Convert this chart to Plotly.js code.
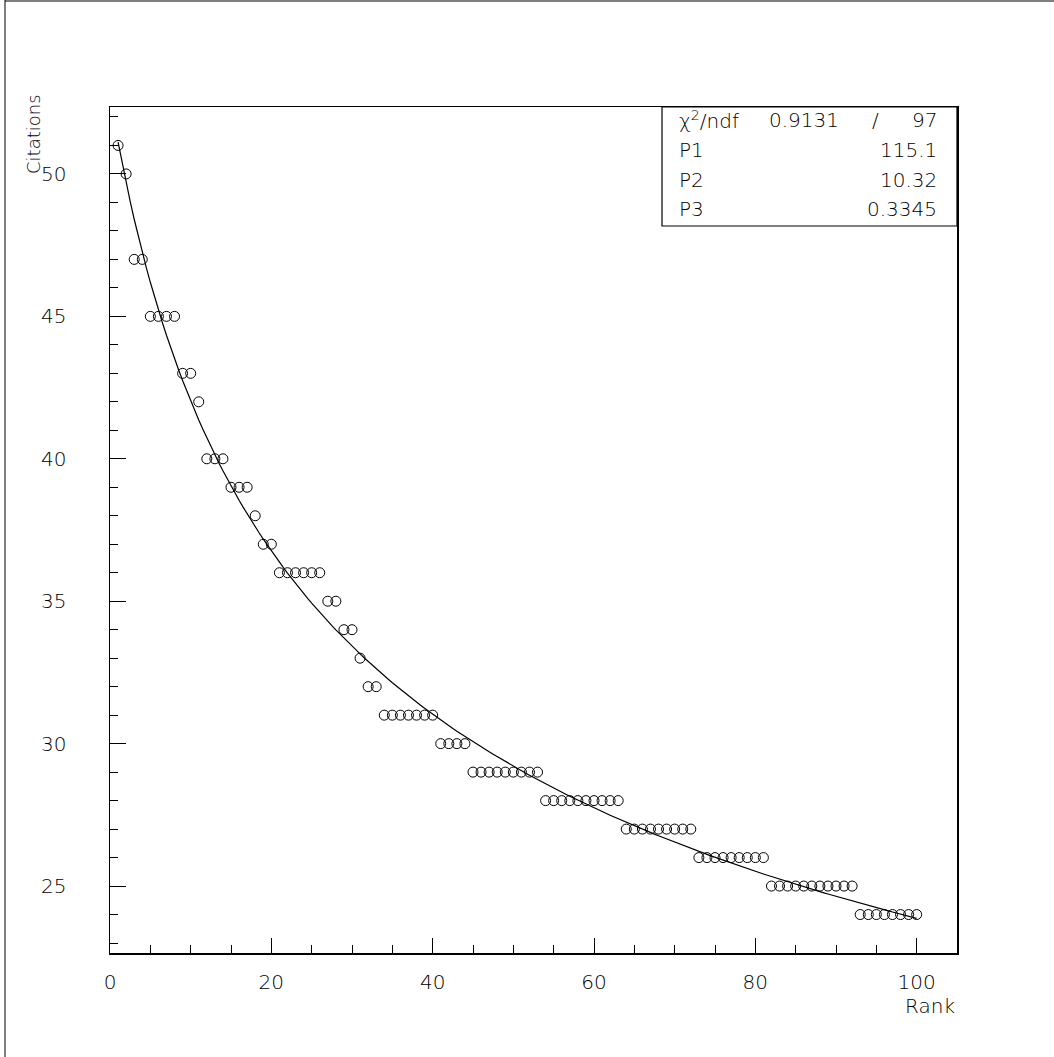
<!DOCTYPE html>
<html>
<head>
<meta charset="utf-8">
<script src="https://cdn.plot.ly/plotly-3.0.1.min.js"></script>
<style>html,body{margin:0;padding:0;background:#fff;}#chart{width:1054px;height:1057px;}</style>
</head>
<body>
<div id="chart"></div>
<script>
// Citations by rank
const citations = [
  51, 50, 47, 47, 45, 45, 45, 45, 43, 43,
  42, 40, 40, 40, 39, 39, 39, 38, 37, 37,
  36, 36, 36, 36, 36, 36, 35, 35, 34, 34,
  33, 32, 32, 31, 31, 31, 31, 31, 31, 31,
  30, 30, 30, 30, 29, 29, 29, 29, 29, 29,
  29, 29, 29, 28, 28, 28, 28, 28, 28, 28,
  28, 28, 28, 27, 27, 27, 27, 27, 27, 27,
  27, 27, 26, 26, 26, 26, 26, 26, 26, 26,
  26, 25, 25, 25, 25, 25, 25, 25, 25, 25,
  25, 25, 24, 24, 24, 24, 24, 24, 24, 24
];
const ranks = citations.map((_, i) => i + 1);

// Fit results shown in the stats box
const chi2 = "0.9131";
const ndf = "97";
const paramNames = ["P1", "P2", "P3"];
const paramValues = [115.1, 10.32, 0.3345];
const paramLabels = ["115.1", "10.32", "0.3345"];

// Fit model curve: P1 / (P2 + x)^P3, drawn over the data range
const fitX = [];
const fitY = [];
for (let x = 1; x <= 100.0001; x += 0.5) {
  fitX.push(x);
  fitY.push(paramValues[0] / Math.pow(paramValues[1] + x, paramValues[2]));
}

const FONT = "'DejaVu Sans', 'Liberation Sans', sans-serif";

const W = 1054, H = 1057;
const L = 110, R = 957, T = 107, B = 953;
const px = v => (v - L) / (R - L);
const py = v => (B - v) / (B - T);

const traces = [
  {
    x: ranks, y: citations, type: 'scatter', mode: 'markers',
    marker: {symbol: 'circle-open', size: 10, color: '#000', line: {width: 1, color: '#000'}},
    hoverinfo: 'x+y', showlegend: false
  },
  {
    x: fitX, y: fitY, type: 'scatter', mode: 'lines',
    line: {color: '#000', width: 1.2}, hoverinfo: 'skip', showlegend: false
  }
];

const axisFont = {family: FONT, size: 20, color: '#000', weight: 200};
const titleFontY = {family: FONT, size: 18, color: '#000', weight: 200};
const statFont = {family: FONT, size: 20, color: '#000', weight: 200};

const rowY = [120, 150, 180, 209];
const annotations = [
  {x: px(677), y: py(rowY[0]), xref: 'paper', yref: 'paper', xanchor: 'left', yanchor: 'middle', showarrow: false,
   text: 'χ<sup>2</sup>/ndf', font: statFont},
  {x: px(767), y: py(rowY[0]), xref: 'paper', yref: 'paper', xanchor: 'left', yanchor: 'middle', showarrow: false,
   text: chi2, font: statFont},
  {x: px(875), y: py(rowY[0]), xref: 'paper', yref: 'paper', xanchor: 'center', yanchor: 'middle', showarrow: false,
   text: '/', font: statFont},
  {x: px(939), y: py(rowY[0]), xref: 'paper', yref: 'paper', xanchor: 'right', yanchor: 'middle', showarrow: false,
   text: ndf, font: statFont},
  // axis titles
  {x: px(33), y: py(134), xref: 'paper', yref: 'paper', xanchor: 'center', yanchor: 'middle', showarrow: false,
   text: 'Citations', textangle: -90, font: titleFontY},
  {x: px(957), y: py(1006), xref: 'paper', yref: 'paper', xanchor: 'right', yanchor: 'middle', showarrow: false,
   text: 'Rank', font: axisFont}
];
paramNames.forEach((n, i) => {
  annotations.push({x: px(677), y: py(rowY[i + 1]), xref: 'paper', yref: 'paper', xanchor: 'left', yanchor: 'middle',
    showarrow: false, text: n, font: statFont});
  annotations.push({x: px(939), y: py(rowY[i + 1]), xref: 'paper', yref: 'paper', xanchor: 'right', yanchor: 'middle',
    showarrow: false, text: paramLabels[i], font: statFont});
});

const shapes = [
  // stats box
  {type: 'rect', xref: 'paper', yref: 'paper', x0: px(662), x1: 1, y0: py(226), y1: 1,
   line: {color: '#000', width: 1.2}, fillcolor: '#fff', layer: 'above'},
  // page frame (left and top)
  {type: 'line', xref: 'paper', yref: 'paper', x0: px(5), x1: px(5), y0: py(0), y1: py(1057),
   line: {color: '#555', width: 1.5}},
  {type: 'line', xref: 'paper', yref: 'paper', x0: px(5), x1: px(1054), y0: py(1), y1: py(1),
   line: {color: '#000', width: 1.2}}
];

const layout = {
  width: W, height: H,
  margin: {l: L, r: W - R, t: T, b: H - B, pad: 0},
  paper_bgcolor: '#fff', plot_bgcolor: '#fff',
  showlegend: false,
  xaxis: {
    range: [0, 105], showgrid: false, zeroline: false,
    showline: true, mirror: true, linecolor: '#000', linewidth: 1.5,
    ticks: 'inside', ticklen: 15, tickwidth: 1, tickcolor: '#000',
    tickmode: 'linear', tick0: 0, dtick: 20,
    minor: {ticks: 'inside', ticklen: 8, dtick: 5, tick0: 0, tickcolor: '#000', tickwidth: 1, showgrid: false},
    tickfont: axisFont, ticklabelstandoff: 10
  },
  yaxis: {
    range: [22.65, 52.35], showgrid: false, zeroline: false,
    showline: true, mirror: true, linecolor: '#000', linewidth: 1.5,
    ticks: 'inside', ticklen: 16, tickwidth: 1, tickcolor: '#000',
    tickmode: 'linear', tick0: 0, dtick: 5,
    minor: {ticks: 'inside', ticklen: 8, dtick: 1, tick0: 0, tickcolor: '#000', tickwidth: 1, showgrid: false},
    tickfont: axisFont, ticklabelstandoff: 38
  },
  annotations: annotations,
  shapes: shapes
};

Plotly.newPlot('chart', traces, layout, {staticPlot: true, displayModeBar: false});
</script>
</body>
</html>
